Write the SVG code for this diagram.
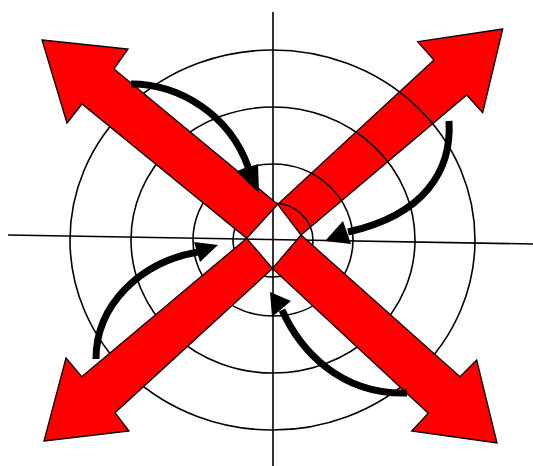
<svg xmlns="http://www.w3.org/2000/svg" width="533" height="466" viewBox="0 0 533 466">
<style>
.arm{fill:#FF0000;stroke:#000;stroke-width:1.3;stroke-linejoin:miter}
.ring{fill:none;stroke:#000;stroke-width:1.6}
.axis{stroke:#000;stroke-width:1.6;fill:none}
.curve{fill:none;stroke:#000;stroke-width:7;stroke-linecap:butt}
.head{fill:#000;stroke:none}
</style>
<rect width="533" height="466" fill="#fff"/>
<g id="arm-ne"><polygon class="arm" points="502.7,29 417.7,41.7 434,60 277.7,204.3 301,235 466.7,95 482.7,112.7"/></g>
<g id="rings">
<ellipse class="ring" cx="272.5" cy="240" rx="202.5" ry="190"/>
<ellipse class="ring" cx="273" cy="240" rx="142" ry="133"/>
<ellipse class="ring" cx="273" cy="240" rx="80" ry="76"/>
<ellipse class="ring" cx="273" cy="240" rx="40" ry="37"/>
</g>
<g id="axes">
<line class="axis" x1="8" y1="235" x2="533" y2="244"/>
<line class="axis" x1="273" y1="12" x2="273" y2="466"/>
</g>
<g id="arm-nw"><polygon class="arm" points="42,40 128,49 114,69 277.7,204.3 246.7,238.3 82,104 67,123"/></g>
<g id="arm-sw"><polygon class="arm" points="44,441 129,431 115,412.7 272.5,268.5 246.7,238.3 81.7,376.7 66,358"/></g>
<g id="arm-se"><polygon class="arm" points="497,443 476.7,360 460,376.7 301,235 272.5,268.5 428.3,413.3 411.7,431"/></g>
<g id="connectors">
<path class="curve" d="M131,84 C180,84 230,115 248.5,168"/>
<polygon class="head" points="237,172 258,164 259,193"/>
<path class="curve" d="M449,121 C452,170 425,215 348,232"/>
<polygon class="head" points="343,221 325,241 351,244"/>
<path class="curve" d="M96,359 C96,305 140,262 198,252"/>
<polygon class="head" points="194,242 218,245 200,262"/>
<path class="curve" d="M407,393 C340,395 300,350 282,310"/>
<polygon class="head" points="270,292 291,301 272,317"/>
</g>
</svg>
